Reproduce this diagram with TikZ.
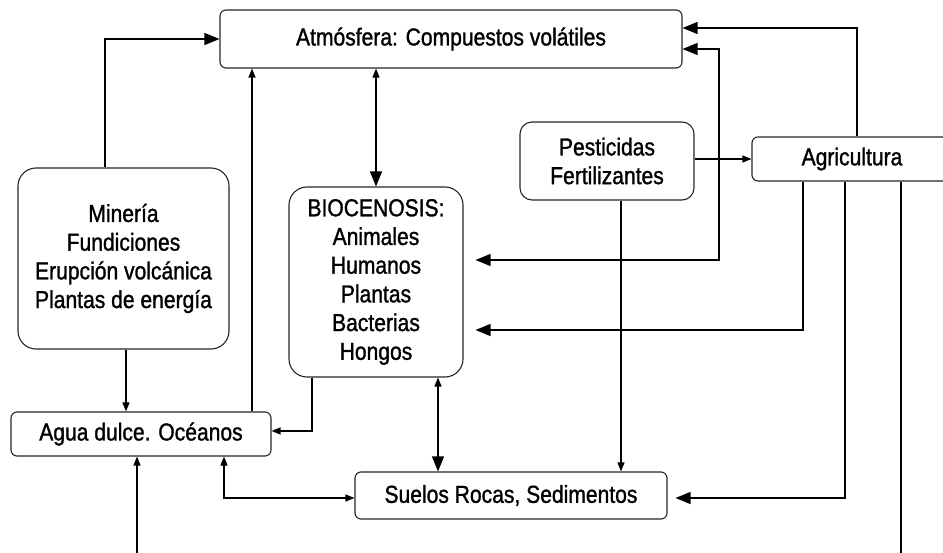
\documentclass[tikz,border=0pt]{standalone}
\usepackage{fontspec}
\setmainfont{Liberation Sans}[FakeStretch=0.86,FakeBold=1.2]
\usetikzlibrary{arrows.meta}
\begin{document}
\begin{tikzpicture}[x=1pt,y=-1pt,
  box/.style={draw=black!85,line width=1.1pt,rounded corners=#1,align=center,
    inner sep=0pt,font=\fontsize{24.5}{28.7}\selectfont},
  box/.default=6pt,
  conn/.style={line width=1.3pt,black},
  big/.tip={Triangle[length=15pt,width=12pt]},
  small/.tip={Triangle[length=9pt,width=7pt]}]
\useasboundingbox (0,0) rectangle (943,553);
\clip (0,0) rectangle (943,553);
\fill[white] (0,0) rectangle (943,553);
% nodes
\node[box,minimum width=462pt,minimum height=58pt] (atm) at (451,39) {Atmósfera: Compuestos volátiles};
\node[box=18pt,minimum width=211pt,minimum height=181pt] (min) at (123.5,258.5) {Minería\\Fundiciones\\Erupción volcánica\\Plantas de energía};
\node[box=18pt,minimum width=174pt,minimum height=190pt] (bio) at (376,282) {BIOCENOSIS:\\Animales\\Humanos\\Plantas\\Bacterias\\Hongos};
\node[box=12pt,minimum width=174pt,minimum height=78pt] (pest) at (607,161) {Pesticidas\\Fertilizantes};
\node[box,minimum width=200pt,minimum height=44pt] (agr) at (852,159) {Agricultura};
\node[box,minimum width=260pt,minimum height=44pt] (agua) at (141,434) {Agua dulce. Océanos};
\node[box,minimum width=312pt,minimum height=47pt] (suelos) at (511,495.5) {Suelos Rocas, Sedimentos};
% connectors
\draw[conn,-big] ([xshift=-18.5pt]min.north) |- (atm.west);
\draw[conn,-small] ([xshift=111pt]agua.north) -- ([xshift=111pt]agua.north |- atm.south);
\draw[conn,small-big] (atm.south -| bio.north) -- (bio.north);
\draw[conn,-big] ([xshift=5pt]agr.north) |- ([yshift=11pt]atm.east);
\coordinate (r1) at (719,260);
\draw[conn,big-big] ([yshift=-10pt]atm.east) -| (r1) -- ([xshift=12pt,yshift=22pt]bio.east);
\draw[conn,-big] ([xshift=-49pt]agr.south) |- ([xshift=12pt,yshift=-48pt]bio.east);
\draw[conn,-big] ([xshift=-7pt]agr.south) |- ([xshift=8pt,yshift=-2.5pt]suelos.east);
\draw[conn,-small] ([xshift=49pt]agr.south) -- ++(0,390) coordinate (b1) -| ([xshift=-4pt]agua.south);
\draw[conn,-small] (agr.west -| pest.east) -- (agr.west);
\draw[conn,-small] ([xshift=14pt]pest.south) -- ([xshift=14pt]pest.south |- suelos.north);
\draw[conn,-small] ([xshift=2.5pt]min.south) -- ([xshift=2.5pt]min.south |- agua.north);
\draw[conn,-small] ([xshift=-64pt]bio.south) |- ([yshift=3pt]agua.east);
\draw[conn,small-big] ([xshift=62pt]bio.south) -- ([xshift=62pt]bio.south |- suelos.north);
\draw[conn,small-small] ([xshift=83pt]agua.south) |- ([yshift=-2.5pt]suelos.west);
\end{tikzpicture}
\end{document}
